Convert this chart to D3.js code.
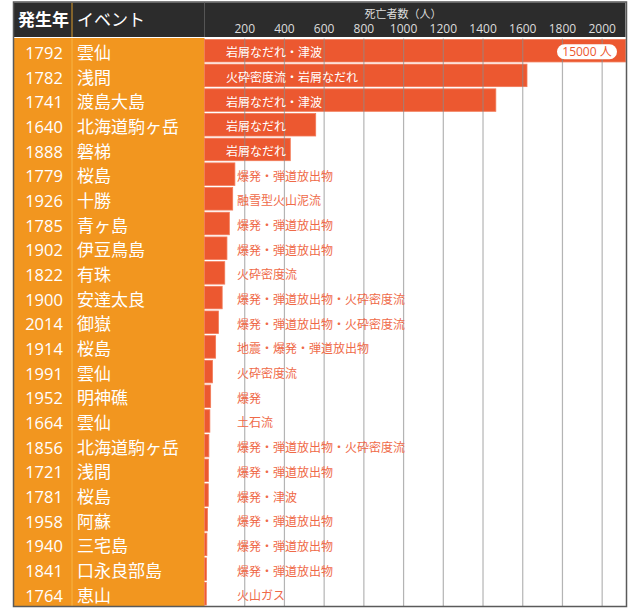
<!DOCTYPE html>
<html><head><meta charset="utf-8">
<script src="https://cdn.jsdelivr.net/npm/d3@7"></script>
<style>
body{margin:0;background:#fff;}
svg{display:block;font-family:'Open Sans','Noto Sans CJK JP',sans-serif;}
</style></head>
<body>
<script>
const years = ["1792","1782","1741","1640","1888","1779","1926","1785","1902","1822","1900","2014","1914","1991","1952","1664","1856","1721","1781","1958","1940","1841","1764"];
const names = ["雲仙","浅間","渡島大島","北海道駒ヶ岳","磐梯","桜島","十勝","青ヶ島","伊豆鳥島","有珠","安達太良","御嶽","桜島","雲仙","明神礁","雲仙","北海道駒ヶ岳","浅間","桜島","阿蘇","三宅島","口永良部島","恵山"];
const causes = ["岩屑なだれ・津波","火砕密度流・岩屑なだれ","岩屑なだれ・津波","岩屑なだれ","岩屑なだれ","爆発・弾道放出物","融雪型火山泥流","爆発・弾道放出物","爆発・弾道放出物","火砕密度流","爆発・弾道放出物・火砕密度流","爆発・弾道放出物・火砕密度流","地震・爆発・弾道放出物","火砕密度流","爆発","土石流","爆発・弾道放出物・火砕密度流","爆発・弾道放出物","爆発・津波","爆発・弾道放出物","爆発・弾道放出物","爆発・弾道放出物","火山ガス"];
const deaths = [15000,1624,1467,560,432,153,142,125,113,102,89,70,56,40,31,27,22,20,19,15,12,10,9];
const tickValues = [200,400,600,800,1000,1200,1400,1600,1800,2000];
const headerYear = "発生年", headerEvent = "イベント", axisTitle = "死亡者数（人）", unit = "人";

(function(){
const W = 640, H = 613;
const svg = d3.select("body").append("svg").attr("width", W).attr("height", H);

const pLeft = 14, pRight = 625.5, pTop = 2.5, headerB = 37, bodyT = 38.5, pBottom = 606;
const xYearDiv = 72, xLeftEnd = 204.5;

const x = d3.scaleLinear().domain([0, 2120]).range([xLeftEnd, pRight]).clamp(true);
const y = d3.scaleBand().domain(d3.range(years.length)).range([bodyT, pBottom]).paddingInner(0.09).paddingOuter(0.04);
const yRow = d3.scaleBand().domain(d3.range(years.length)).range([bodyT, pBottom]);

const barColor = "#ec5830", orange = "#f2961f";

svg.append("rect").attr("x", pLeft).attr("y", pTop).attr("width", pRight - pLeft).attr("height", headerB - pTop).attr("fill", "#2c2c2c");
svg.append("rect").attr("x", pLeft).attr("y", bodyT - 0.5).attr("width", xLeftEnd - pLeft).attr("height", pBottom - bodyT + 0.5).attr("fill", orange);
svg.append("line").attr("x1", xYearDiv).attr("x2", xYearDiv).attr("y1", pTop).attr("y2", headerB).attr("stroke", "#d99a2a").attr("stroke-width", 1);
svg.append("line").attr("x1", xLeftEnd).attr("x2", xLeftEnd).attr("y1", pTop).attr("y2", headerB).attr("stroke", "#555").attr("stroke-width", 1);
svg.append("line").attr("x1", xYearDiv).attr("x2", xYearDiv).attr("y1", bodyT).attr("y2", pBottom).attr("stroke", "#f7b546").attr("stroke-width", 1);

svg.append("text").attr("x", 18).attr("y", 26).attr("fill", "#fff").attr("font-size", 17).attr("font-weight", "bold").text(headerYear);
svg.append("text").attr("x", 77).attr("y", 26).attr("fill", "#fff").attr("font-size", 17).text(headerEvent);
svg.append("text").attr("x", 403).attr("y", 17.5).attr("fill", "#ddd").attr("font-size", 11).attr("text-anchor", "middle").text(axisTitle);

const axis = svg.append("g").attr("transform", `translate(0,${33})`)
  .call(d3.axisTop(x).tickValues(tickValues).tickSize(0).tickPadding(0).tickFormat(d3.format("d")));
axis.select(".domain").remove();
axis.selectAll("text").attr("fill", "#ddd").attr("font-size", 12).attr("font-family", "'Open Sans',sans-serif");

const rows = svg.append("g");
rows.selectAll("text.year").data(years).join("text").attr("class", "year")
  .attr("x", 44).attr("y", (d, i) => yRow(i) + yRow.bandwidth() / 2 + 8)
  .attr("text-anchor", "middle").attr("fill", "#fff").attr("font-size", 16.5).text(d => d);
rows.selectAll("text.name").data(names).join("text").attr("class", "name")
  .attr("x", 77).attr("y", (d, i) => yRow(i) + yRow.bandwidth() / 2 + 8)
  .attr("fill", "#fff").attr("font-size", 17).text(d => d);

svg.append("g").selectAll("rect").data(deaths).join("rect")
  .attr("x", x(0)).attr("y", (d, i) => y(i))
  .attr("width", d => x(d) - x(0)).attr("height", y.bandwidth())
  .attr("fill", barColor).attr("stroke", "#f27a58").attr("stroke-width", 0.8);

const grid = svg.append("g").attr("transform", `translate(0,${bodyT})`)
  .call(d3.axisBottom(x).tickValues(tickValues).tickSize(pBottom - bodyT).tickFormat(""));
grid.select(".domain").remove();
grid.selectAll("line").attr("stroke", "#8c8c8c").attr("stroke-opacity", 0.65).attr("stroke-width", 1.2);

svg.append("g").selectAll("text").data(causes).join("text")
  .attr("x", (d, i) => deaths[i] >= 400 ? 226 : 237)
  .attr("y", (d, i) => y(i) + y.bandwidth() / 2 + 6.5)
  .attr("fill", (d, i) => deaths[i] >= 400 ? "#fff" : "#ef6a48")
  .attr("font-size", 12).text(d => d);

deaths.forEach((d, i) => {
  if (d > x.domain()[1]) {
    const cx = 587, cy = y(i) + y.bandwidth() / 2 + 1;
    svg.append("rect").attr("x", cx - 30).attr("y", cy - 7.5).attr("width", 60).attr("height", 15).attr("rx", 7.5)
      .attr("fill", "#fff");
    svg.append("text").attr("x", cx).attr("y", cy + 4.5).attr("text-anchor", "middle")
      .attr("fill", barColor).attr("font-size", 12).text(d + " " + unit);
  }
});

svg.append("rect").attr("x", pLeft - 0.5).attr("y", pTop - 0.5).attr("width", pRight - pLeft + 1.5).attr("height", pBottom - pTop + 1)
  .attr("fill", "none").attr("stroke", "#5a5a5a").attr("stroke-width", 1.5);
})();
</script>
</body></html>
